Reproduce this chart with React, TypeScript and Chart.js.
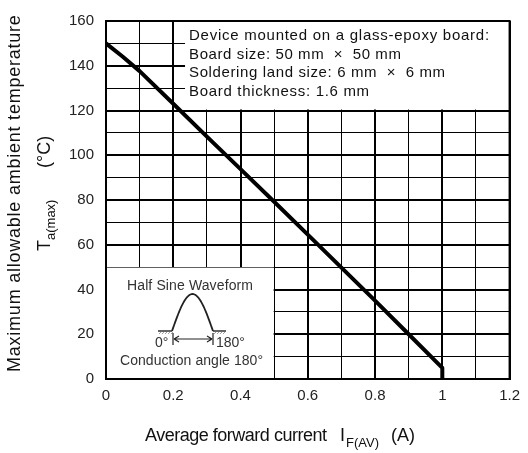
import React, { useEffect, useRef } from "react";
import { Chart, registerables } from "chart.js";

Chart.register(...registerables);

// ---- data ----
const currentA = [0, 0.05, 0.1, 0.2, 0.3, 0.4, 0.5, 0.6, 0.7, 0.8, 0.9, 1.0, 1.0];
const tempC = [150, 144, 137.6, 123, 108.3, 93.8, 79.2, 64.5, 49.8, 35, 20, 5, 0];
const xTickLabels = ["0", "0.2", "0.4", "0.6", "0.8", "1", "1.2"];
const yTickLabels = ["0", "20", "40", "60", "80", "100", "120", "140", "160"];
const noteLines = [
  "Device mounted on a glass-epoxy board:",
  "Board size: 50 mm  \u00d7  50 mm",
  "Soldering land size: 6 mm  \u00d7  6 mm",
  "Board thickness: 1.6 mm",
];
const waveTitle = "Half Sine Waveform";
const waveCaption = "Conduction angle 180\u00b0";

const FONT = "'Liberation Sans', Arial, sans-serif";

function fitText(ctx: CanvasRenderingContext2D, text: string, x: number, y: number, target: number) {
  (ctx as any).letterSpacing = "0px";
  const w = ctx.measureText(text).width;
  const n = Math.max(1, text.length - 1);
  const ls = (target - w) / n;
  (ctx as any).letterSpacing = ls.toFixed(2) + "px";
  ctx.fillText(text, x, y);
  (ctx as any).letterSpacing = "0px";
}

const decorPlugin = {
  id: "decor",
  beforeDatasetsDraw(chart: any) {
    const { ctx, scales } = chart;
    const xs = scales.x;
    const ys = scales.y;
    const area = chart.chartArea;
    ctx.save();
    ctx.fillStyle = "#ffffff";
    const bx = xs.getPixelForValue(0.235);
    const by = ys.getPixelForValue(120) - 1;
    ctx.fillRect(bx, area.top, area.right - bx, by - area.top);
    const lx = xs.getPixelForValue(0.5) - 0.5;
    const ly = ys.getPixelForValue(50) + 0.5;
    ctx.fillRect(area.left, ly, lx - area.left, area.bottom - ly);
    ctx.restore();
  },
  afterDraw(chart: any) {
    const { ctx, scales } = chart;
    const xs = scales.x;
    const area = chart.chartArea;
    ctx.save();
    ctx.strokeStyle = "#000";
    ctx.lineWidth = 2;
    ctx.strokeRect(area.left, area.top, area.right - area.left, area.bottom - area.top);

    // notes
    ctx.fillStyle = "#111";
    ctx.textAlign = "left";
    ctx.textBaseline = "alphabetic";
    ctx.font = "15px " + FONT;
    const nx = xs.getPixelForValue(0.235) + 4;
    const noteWidths = [300, 212, 256, 180];
    const noteBase = [40, 58.5, 77, 95.5];
    noteLines.forEach((t, i) => fitText(ctx, t, nx, noteBase[i], noteWidths[i]));

    // waveform inset
    ctx.fillStyle = "#333";
    ctx.font = "14px " + FONT;
    fitText(ctx, waveTitle, 127, 290, 126);
    fitText(ctx, waveCaption, 120, 365, 143);
    ctx.fillText("0\u00b0", 155, 347);
    ctx.fillText("180\u00b0", 216, 347);

    ctx.strokeStyle = "#333";
    ctx.lineWidth = 1.5;
    ctx.beginPath();
    ctx.moveTo(158, 331); ctx.lineTo(172, 331);
    ctx.moveTo(213, 331); ctx.lineTo(226, 331);
    ctx.stroke();
    ctx.lineWidth = 0.8;
    ctx.strokeStyle = "#888";
    ctx.beginPath();
    for (let gx = 159; gx < 172; gx += 3) { ctx.moveTo(gx, 334); ctx.lineTo(gx + 2, 332); }
    for (let gx = 214; gx < 226; gx += 3) { ctx.moveTo(gx, 334); ctx.lineTo(gx + 2, 332); }
    ctx.stroke();
    ctx.strokeStyle = "#222";
    ctx.lineWidth = 1.8;
    ctx.beginPath();
    for (let i = 0; i <= 40; i++) {
      const t = i / 40;
      const px = 172 + t * 41;
      const py = 331 - Math.sin(Math.PI * t) * 37;
      if (i === 0) ctx.moveTo(px, py); else ctx.lineTo(px, py);
    }
    ctx.stroke();
    ctx.lineWidth = 1.2;
    ctx.beginPath();
    ctx.moveTo(173, 333); ctx.lineTo(173, 345);
    ctx.moveTo(213, 333); ctx.lineTo(213, 345);
    ctx.moveTo(174, 339); ctx.lineTo(212, 339);
    ctx.moveTo(174, 339); ctx.lineTo(179, 336);
    ctx.moveTo(174, 339); ctx.lineTo(179, 342);
    ctx.moveTo(212, 339); ctx.lineTo(207, 336);
    ctx.moveTo(212, 339); ctx.lineTo(207, 342);
    ctx.stroke();

    // x title
    ctx.fillStyle = "#111";
    ctx.font = "18px " + FONT;
    fitText(ctx, "Average forward current", 145, 441, 182);
    ctx.fillText("I", 340, 441);
    ctx.font = "13px " + FONT;
    ctx.fillText("F(AV)", 346, 447);
    ctx.font = "18px " + FONT;
    ctx.fillText("(A)", 391, 441);

    // y title
    ctx.save();
    ctx.rotate(-Math.PI / 2);
    ctx.font = "18px " + FONT;
    fitText(ctx, "Maximum allowable ambient temperature", -372, 20, 357);
    ctx.fillText("T", -251, 50);
    ctx.font = "13px " + FONT;
    ctx.fillText("a(max)", -240, 55);
    ctx.font = "18px " + FONT;
    ctx.fillText("(\u00b0C)", -168, 50);
    ctx.restore();

    ctx.restore();
  },
};

export default function App() {
  const ref = useRef<HTMLCanvasElement | null>(null);
  useEffect(() => {
    document.body.style.margin = "0";
    const canvas = ref.current!;
    const isMajor = (v: number, step: number) => Math.abs(v / step - Math.round(v / step)) < 1e-6;
    const chart = new Chart(canvas, {
      type: "line",
      data: {
        datasets: [
          {
            data: currentA.map((x, i) => ({ x, y: tempC[i] })),
            borderColor: "#000",
            borderWidth: 4,
            pointRadius: 0,
            tension: 0,
            fill: false,
            borderCapStyle: "butt",
            borderJoinStyle: "round",
          },
        ],
      },
      options: {
        animation: false,
        responsive: false,
        devicePixelRatio: 1,
        layout: { padding: { left: 0, right: 16, top: 16, bottom: 0 } },
        plugins: { legend: { display: false }, tooltip: { enabled: false }, title: { display: false } },
        scales: {
          x: {
            type: "linear",
            min: 0,
            max: 1.2,
            afterFit: (s: any) => { s.height = 74; },
            afterBuildTicks: (s: any) => {
              const t = [];
              for (let i = 0; i <= 12; i++) t.push({ value: i / 10 });
              s.ticks = t;
            },
            ticks: {
              autoSkip: false,
              maxRotation: 0,
              padding: 8,
              color: "#222",
              font: { family: FONT, size: 15 },
              callback: (v: any) => {
                const val = Number(v);
                if (!isMajor(val, 0.2)) return "";
                return xTickLabels[Math.round(val / 0.2)];
              },
            },
            grid: {
              color: "#000",
              drawTicks: false,
              lineWidth: (c: any) => (c.tick && isMajor(c.tick.value, 0.2) ? 2 : 1),
            },
            border: { display: true, color: "#000", width: 2 },
          },
          y: {
            type: "linear",
            min: 0,
            max: 160,
            afterFit: (s: any) => { s.width = 106; },
            afterBuildTicks: (s: any) => {
              const t = [];
              for (let i = 0; i <= 16; i++) t.push({ value: i * 10 });
              s.ticks = t;
            },
            ticks: {
              autoSkip: false,
              padding: 12,
              color: "#222",
              font: { family: FONT, size: 15 },
              callback: (v: any) => {
                const val = Number(v);
                if (!isMajor(val, 20)) return "";
                return yTickLabels[Math.round(val / 20)];
              },
            },
            grid: {
              color: "#000",
              drawTicks: false,
              lineWidth: (c: any) => (c.tick && isMajor(c.tick.value, 20) ? 2 : 1),
            },
            border: { display: true, color: "#000", width: 2 },
          },
        },
      },
      plugins: [decorPlugin],
    } as any);
    return () => chart.destroy();
  }, []);
  return <canvas ref={ref} width={528} height={453} style={{ display: "block", width: 528, height: 453 }} />;
}
